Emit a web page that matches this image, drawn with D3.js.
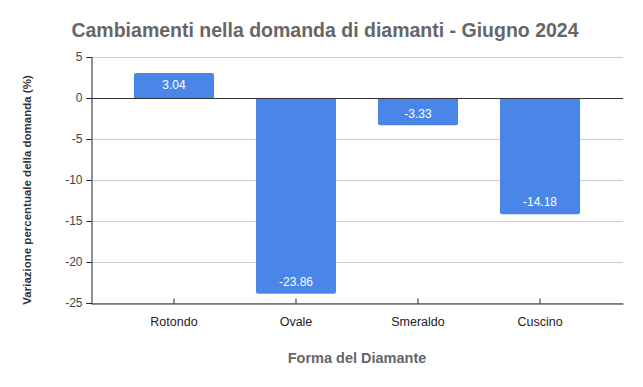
<!DOCTYPE html>
<html>
<head>
<meta charset="utf-8">
<script src="https://cdn.jsdelivr.net/npm/d3@7"></script>
<style>
  body { margin: 0; background: #fff; }
  svg { font-family: "Liberation Sans", Arial, sans-serif; }
</style>
</head>
<body>
<script>
const categories = ["Rotondo", "Ovale", "Smeraldo", "Cuscino"];
const values = [3.04, -23.86, -3.33, -14.18];
const yTicks = [5, 0, -5, -10, -15, -20, -25];

const W = 643, H = 387;
const margin = {top: 57, right: 20, bottom: 84, left: 91};
const width = W - margin.left - margin.right;
const height = H - margin.top - margin.bottom;

const svg = d3.select("body").append("svg")
  .attr("width", W)
  .attr("height", H);

const x = d3.scaleBand()
  .domain(categories)
  .range([margin.left, margin.left + width])
  .paddingInner(0.344)
  .paddingOuter(0.352);

const y = d3.scaleLinear()
  .domain([-25, 5])
  .range([margin.top + height, margin.top]);

// gridlines
svg.append("g")
  .selectAll("line")
  .data(yTicks)
  .enter()
  .append("line")
  .attr("x1", margin.left)
  .attr("x2", margin.left + width)
  .attr("y1", d => Math.round(y(d)) + 0.5)
  .attr("y2", d => Math.round(y(d)) + 0.5)
  .attr("stroke", "#cccccc")
  .attr("stroke-width", 1);

// bars with rounded far corners
const r = 2;
function barPath(d) {
  const x0 = x(d.cat), x1 = x0 + x.bandwidth();
  const base = y(0), end = y(d.val);
  const s = d.val >= 0 ? 1 : -1;
  return "M" + x0 + "," + base +
    "L" + x0 + "," + (end + s * r) +
    "Q" + x0 + "," + end + " " + (x0 + r) + "," + end +
    "L" + (x1 - r) + "," + end +
    "Q" + x1 + "," + end + " " + x1 + "," + (end + s * r) +
    "L" + x1 + "," + base + "Z";
}

const data = categories.map((c, i) => ({cat: c, val: values[i]}));

svg.append("g")
  .selectAll("path")
  .data(data)
  .enter()
  .append("path")
  .attr("d", barPath)
  .attr("fill", "#4a86e8");

// value labels
svg.append("g")
  .selectAll("text")
  .data(data)
  .enter()
  .append("text")
  .attr("x", d => x(d.cat) + x.bandwidth() / 2)
  .attr("y", d => d.val >= 0 ? y(d.val) + 12 : y(d.val) - 12)
  .attr("dy", "0.35em")
  .attr("text-anchor", "middle")
  .attr("fill", "#ffffff")
  .style("font-size", "12px")
  .text(d => d.val.toFixed(2));

// zero line
svg.append("line")
  .attr("x1", margin.left)
  .attr("x2", margin.left + width)
  .attr("y1", Math.round(y(0)) + 0.5)
  .attr("y2", Math.round(y(0)) + 0.5)
  .attr("stroke", "#333333");

// y axis
const yAxis = d3.axisLeft(y)
  .tickValues(yTicks)
  .tickSize(5)
  .tickPadding(4)
  .tickFormat(d3.format("d"));

const gy = svg.append("g")
  .attr("transform", "translate(" + (margin.left + 0.5) + ",0)")
  .call(yAxis);
gy.select(".domain").attr("stroke", "#222");
gy.selectAll(".tick line").attr("stroke", "#222");
gy.selectAll(".tick text")
  .attr("fill", "#444")
  .style("font-size", "12px")
  .style("font-family", "'Liberation Sans', Arial, sans-serif")
  .text(d => d < 0 ? "-" + Math.abs(d) : d);

// x axis (ticks point inward)
const xAxis = d3.axisBottom(x)
  .tickSizeInner(-5)
  .tickSizeOuter(0)
  .tickPadding(14);

const gx = svg.append("g")
  .attr("transform", "translate(0," + (margin.top + height + 0.5) + ")")
  .call(xAxis);
gx.select(".domain").attr("stroke", "#222");
gx.selectAll(".tick line").attr("stroke", "#222");
gx.selectAll(".tick text")
  .attr("fill", "#222")
  .style("font-size", "12.5px")
  .style("font-family", "'Liberation Sans', Arial, sans-serif");

// title
svg.append("text")
  .attr("x", 325)
  .attr("y", 37)
  .attr("text-anchor", "middle")
  .attr("fill", "#666666")
  .style("font-size", "19.5px")
  .style("font-weight", "bold")
  .text("Cambiamenti nella domanda di diamanti - Giugno 2024");

// axis titles
svg.append("text")
  .attr("x", 357)
  .attr("y", 363)
  .attr("text-anchor", "middle")
  .attr("fill", "#666666")
  .style("font-size", "14.5px")
  .style("font-weight", "bold")
  .text("Forma del Diamante");

svg.append("text")
  .attr("transform", "translate(31,190) rotate(-90)")
  .attr("text-anchor", "middle")
  .attr("fill", "#333333")
  .style("font-size", "11.5px")
  .style("font-weight", "bold")
  .text("Variazione percentuale della domanda (%)");
</script>
</body>
</html>
